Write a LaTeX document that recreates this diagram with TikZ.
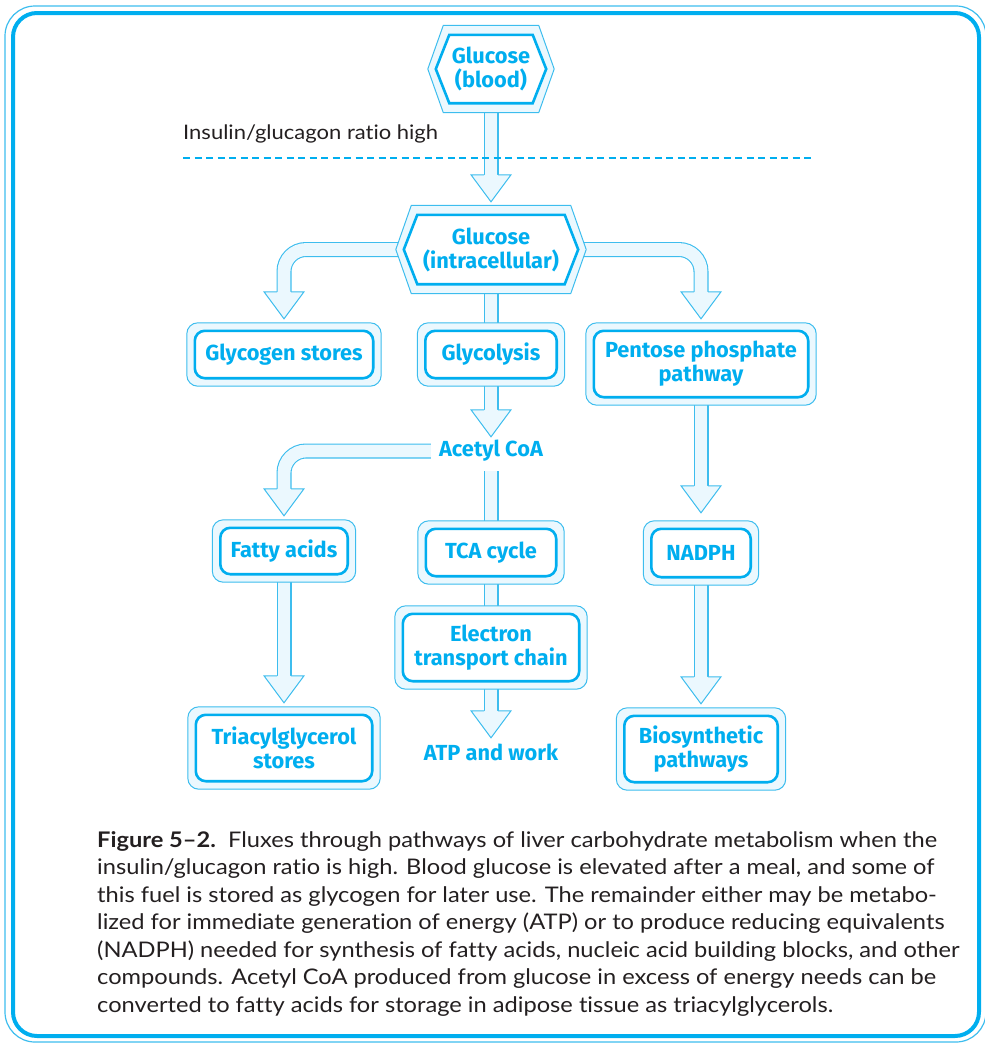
\documentclass[tikz,border=0pt]{standalone}
\usepackage{fontspec}
\setmainfont[FakeStretch=1.1, Ligatures=NoCommon]{Lato}
\newfontfamily\labelfont{Fira Sans}
\usetikzlibrary{calc}
\definecolor{cy}{HTML}{00AEEF}
\definecolor{cyline}{HTML}{3DBDEE}
\definecolor{cyfill}{HTML}{EBF8FE}
\definecolor{ink}{HTML}{231F20}
\pgfdeclarelayer{pipes}
\pgfdeclarelayer{frames}
\pgfsetlayers{pipes,frames,main}

\tikzset{
  lbl/.style={font=\labelfont\bfseries\fontsize{21.8}{24}\selectfont, text=cy,
    align=center, inner sep=0pt},
  pipe/.style={preaction={draw=cyline, line width=15pt}, draw=cyfill,
    line width=12.8pt, rounded corners=22pt},
  head/.style={fill=cyfill, draw=cyline, line width=1pt, line join=miter},
  outerframe/.style={draw=cyline, line width=1pt, fill=cyfill, rounded corners=11pt},
  innerframe/.style={draw=cy, line width=2.6pt, fill=white, rounded corners=10pt},
}

% double rounded frame behind a label node
\newcommand\duoframe[1]{%
  \begin{pgfonlayer}{frames}
    \path[outerframe] ($(#1.north west)+(-8,-8)$) rectangle ($(#1.south east)+(8,8)$);
    \path[innerframe] (#1.north west) rectangle (#1.south east);
  \end{pgfonlayer}}

% double hexagonal frame behind a label node
\newcommand\hexduo[1]{%
  \begin{pgfonlayer}{frames}
    \path[outerframe, rounded corners=0pt, line join=miter]
      ($(#1.west)+(-8,0)$) -- ($(#1.north west)+(7.5,-9.5)$)
      -- ($(#1.north east)+(-7.5,-9.5)$) -- ($(#1.east)+(8,0)$)
      -- ($(#1.south east)+(-7.5,9.5)$) -- ($(#1.south west)+(7.5,9.5)$) -- cycle;
    \path[innerframe, rounded corners=0pt, line join=miter]
      (#1.west) -- ($(#1.north west)+(13.5,0)$) -- ($(#1.north east)+(-13.5,0)$)
      -- (#1.east) -- ($(#1.south east)+(-13.5,0)$) -- ($(#1.south west)+(13.5,0)$) -- cycle;
  \end{pgfonlayer}}

% open arrowhead of a pipe, tip at the given coordinate
\newcommand\pipetip[1]{%
  \path[head] ($(#1)+(-7,-27)$) -- ++(-13,0) -- (#1) -- ++(20,-27) -- ++(-13,0);}

\begin{document}
\begin{tikzpicture}[x=1pt,y=-1pt]
\useasboundingbox (0,0) rectangle (985,1044);

% outer frame
\draw[cyline, line width=1.2pt, rounded corners=30pt] (5,6) rectangle (986,1042);
\draw[cy, line width=4pt, rounded corners=24pt] (13,13) rectangle (979,1036);

% label nodes
\node[lbl, minimum width=110pt, minimum height=68pt] (gb) at (491,69) {Glucose\\(blood)};
\node[lbl, minimum width=174pt, minimum height=69pt] (gi) at (491,249.5) {Glucose\\(intracellular)};
\node[lbl, minimum width=178pt, minimum height=47pt] (gs) at (284,354.5) {Glycogen stores};
\node[lbl, minimum width=131pt, minimum height=47pt] (gl) at (491,354.5) {Glycolysis};
\node[lbl, minimum width=214pt, minimum height=66pt] (pp) at (701,364) {Pentose phosphate\\pathway};
\node[lbl, minimum height=40pt, inner xsep=8pt] (ac) at (491,451) {Acetyl CoA};
\node[lbl, minimum width=127pt, minimum height=46pt] (fa) at (284,551) {Fatty acids};
\node[lbl, minimum width=130pt, minimum height=47pt] (tca) at (491,552.5) {TCA cycle};
\node[lbl, minimum width=99pt, minimum height=48pt] (nadph) at (701,553) {NADPH};
\node[lbl, minimum width=176pt, minimum height=67pt] (etc) at (491,647.5) {Electron\\transport chain};
\node[lbl, minimum height=28pt] (atp) at (491,752) {ATP and work};
\node[lbl, minimum width=176pt, minimum height=66pt] (tag) at (284,748) {Triacylglycerol\\stores};
\node[lbl, minimum width=153pt, minimum height=66pt] (bio) at (701,749) {Biosynthetic\\pathways};

\hexduo{gb}
\hexduo{gi}
\foreach \n in {gs,gl,pp,fa,tca,nadph,etc,tag,bio} {\duoframe{\n}}

% arrow tips
\coordinate (tipgi) at ($(gi.north)+(0,-13)$);
\coordinate (tipgs) at ($(gs.north)+(0,-12)$);
\coordinate (tippp) at ($(pp.north)+(0,-12)$);
\coordinate (tipac) at ($(ac.north)+(0,6)$);
\coordinate (tipfa) at ($(fa.north)+(0,-12)$);
\coordinate (tipnadph) at ($(nadph.north)+(0,-16)$);
\coordinate (tipatp) at (atp.north);
\coordinate (tiptag) at ($(tag.north)+(0,-12)$);
\coordinate (tipbio) at ($(bio.north)+(0,-12)$);

% pipes
\begin{pgfonlayer}{pipes}
  \draw[pipe] (gb.south) -- ($(tipgi)+(0,-27)$);
  \pipetip{tipgi}
  \draw[pipe] (gi.west) -- (gi.west -| gs) -- ($(tipgs)+(0,-27)$);
  \pipetip{tipgs}
  \draw[pipe] (gi.east) -- (gi.east -| pp) -- ($(tippp)+(0,-27)$);
  \pipetip{tippp}
  \draw[pipe] (gi.south) -- (gl.north);
  \draw[pipe] (gl.south) -- ($(tipac)+(0,-27)$);
  \pipetip{tipac}
  \draw[pipe] (ac.west) -- (ac.west -| fa) -- ($(tipfa)+(0,-27)$);
  \pipetip{tipfa}
  \draw[pipe] (ac.south) -- (tca.north);
  \draw[pipe] (tca.south) -- (etc.north);
  \draw[pipe] (etc.south) -- ($(tipatp)+(0,-27)$);
  \pipetip{tipatp}
  \draw[pipe] (fa.south) -- ($(tiptag)+(0,-27)$);
  \pipetip{tiptag}
  \draw[pipe] (pp.south) -- ($(tipnadph)+(0,-27)$);
  \pipetip{tipnadph}
  \draw[pipe] (nadph.south) -- ($(tipbio)+(0,-27)$);
  \pipetip{tipbio}
\end{pgfonlayer}

% hormonal state
\node[anchor=west, inner sep=0pt, text=ink, font=\fontsize{20}{24}\selectfont] (ratio) at (183,134) {Insulin/glucagon ratio high};
\draw[cy, line width=2pt, dash pattern=on 7pt off 4.5pt] (183,158) -- (812,158);

% caption
\node[anchor=north west, inner sep=0pt, align=left, text=ink,
  font=\fontsize{21.5}{27.5}\selectfont] (cap) at (97,831) {%
\textbf{Figure 5–2.}\ \ Fluxes through pathways of liver carbohydrate metabolism when the\\
insulin/glucagon ratio is high. Blood glucose is elevated after a meal, and some of\\
this fuel is stored as glycogen for later use. The remainder either may be metabo-\\
lized for immediate generation of energy (ATP) or to produce reducing equivalents\\
(NADPH) needed for synthesis of fatty acids, nucleic acid building blocks, and other\\
compounds. Acetyl CoA produced from glucose in excess of energy needs can be\\
converted to fatty acids for storage in adipose tissue as triacylglycerols.};
\end{tikzpicture}
\end{document}
